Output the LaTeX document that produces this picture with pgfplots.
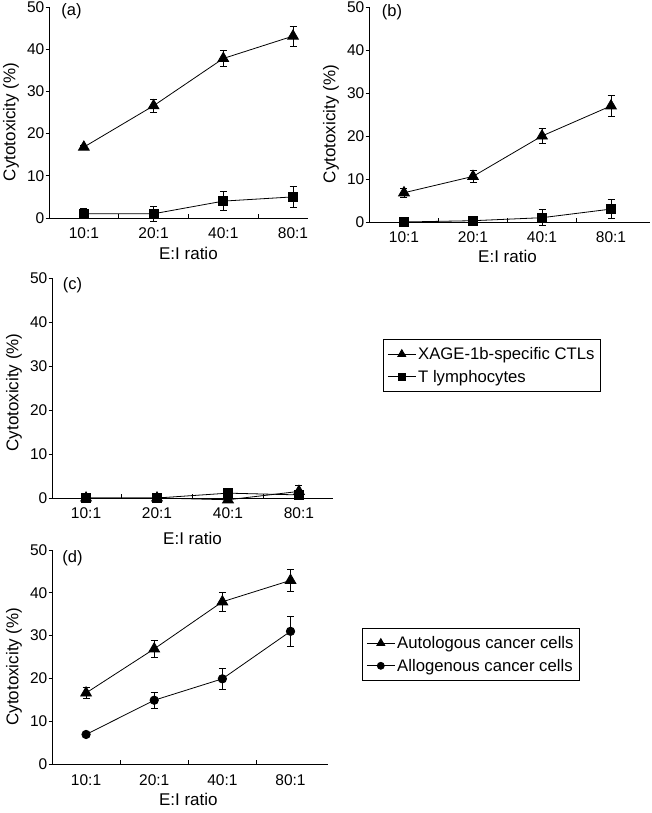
\documentclass[border=0pt]{standalone}
\usepackage{fontspec}
\setmainfont{Liberation Sans}
\usepackage{pgfplots}
\pgfplotsset{compat=1.18}
\tikzset{plab/.style={font=\fontsize{16.5}{19}\selectfont, anchor=center}}
\pgfplotsset{
  panel/.style={
    scale only axis,
    anchor=south west,
    axis lines=left,
    axis line style={-, black, line width=0.8pt},
    clip=false,
    ymin=0, ymax=50,
    ytick={0,10,20,30,40,50},
    tick align=outside,
    major tick length=3.5pt,
    tick style={black, line width=0.8pt},
    xtick={0,1,2,3},
    xticklabels={10:1,20:1,40:1,80:1},
    major x tick style={draw=none},
    extra x ticks={0.5,1.5,2.5},
    extra x tick labels={},
    extra x tick style={tick align=inside, major x tick style={draw=black}},
    /pgf/number format/assume math mode=true,
    tick label style={font=\fontsize{15.5}{18}\selectfont},
    yticklabel style={inner sep=1pt},
    xticklabel style={anchor=base, yshift=-17.5pt},
    ylabel={Cytotoxicity (\%)},
    xlabel={E:I ratio},
    ylab/.style={every axis y label/.style={at={(rel axis cs:0,##1)}, xshift=-38pt, rotate=90, anchor=center, font=\fontsize{17}{20}\selectfont}},
    xlab/.style={every axis x label/.style={at={(axis cs:1.5,0)}, yshift=-##1, anchor=center, font=\fontsize{17}{20}\selectfont}},
    ylab=0.455, xlab=35pt,
    legend cell align=left,
    legend image code/.code={\draw[mark repeat=2,mark phase=2] plot coordinates {(0pt,0pt)(14pt,0pt)(28pt,0pt)};},
    legend style={draw=black, line width=0.8pt, anchor=north west, font=\fontsize{16.7}{19.5}\selectfont, inner xsep=4pt, inner ysep=6pt, row sep=5pt},
  },
  eb/.style={error bars/.cd, y dir=both, y explicit, error bar style={line width=0.8pt, black}, error mark options={rotate=90, mark size=3.5pt, line width=0.8pt, black}},
  tri/.style={black, line width=0.8pt, mark=triangle*, mark size=6.2pt, mark options={solid, fill=black}, legend image post style={mark size=4.6pt}, eb},
  sqr/.style={black, line width=0.8pt, mark=square*, mark size=4.5pt, mark options={solid, fill=black}, legend image post style={mark size=3.8pt}, eb},
  circ/.style={black, line width=0.8pt, mark=*, mark size=4.2pt, mark options={solid, fill=black}, legend image post style={mark size=3.5pt}, eb},
}
\begin{document}
\begin{tikzpicture}
\useasboundingbox (0pt,0pt) rectangle (651pt,813pt);
% (a)
\begin{axis}[panel, at={(49pt,595pt)}, width=259pt, height=211pt, xmin=-0.5, xmax=3.215, xlab=35pt]
\addplot[tri] table[x=x, y=y, y error=e] {
x y e
0 16.8 0.4
1 26.6 1.6
2 37.8 1.9
3 43.1 2.4
};
\addplot[sqr] table[x=x, y=y, y error=e] {
x y e
0 1.0 1.2
1 1.0 1.7
2 4.0 2.2
3 5.0 2.4
};
\node[plab] at (rel axis cs:0,1) [xshift=22.5pt, yshift=-4.5pt] {(a)};
\end{axis}
% (b)
\begin{axis}[panel, at={(369pt,591pt)}, width=281pt, height=215pt, xmin=-0.507, xmax=3.565, xlab=34pt]
\addplot[tri] table[x=x, y=y, y error=e] {
x y e
0 6.8 1.1
1 10.6 1.3
2 20.0 1.8
3 27.0 2.5
};
\addplot[sqr] table[x=x, y=y, y error=e] {
x y e
0 0.0 0.0
1 0.3 1.1
2 1.0 1.9
3 3.0 2.2
};
\node[plab] at (rel axis cs:0,1) [xshift=23pt, yshift=-5pt] {(b)};
\end{axis}
% (c)
\begin{axis}[panel, at={(52pt,315pt)}, width=281pt, height=220pt, xmin=-0.48, xmax=3.48, xlab=40.5pt, ylab=0.48,
  legend style={at={(1.1779,0.7227)}}]
\addplot[tri] table[x=x, y=y, y error=e] {
x y e
0 0.0 0.0
1 0.0 0.0
2 -0.4 0.3
3 1.5 1.3
};
\addlegendentry{XAGE-1b-specific CTLs}
\addplot[sqr] table[x=x, y=y, y error=e] {
x y e
0 0.0 0.0
1 0.0 0.0
2 1.1 0.3
3 0.7 0.3
};
\addlegendentry{T lymphocytes}
\node[plab] at (rel axis cs:0,1) [xshift=20.5pt, yshift=-7pt] {(c)};
\end{axis}
% (d)
\begin{axis}[panel, at={(52pt,49pt)}, width=276pt, height=214pt, xmin=-0.5, xmax=3.55, xlab=35.5pt,
  legend style={at={(1.1232,0.6355)}}]
\addplot[tri] table[x=x, y=y, y error=e] {
x y e
0 16.6 1.3
1 26.9 1.9
2 37.9 2.2
3 42.9 2.5
};
\addlegendentry{Autologous cancer cells}
\addplot[circ] table[x=x, y=y, y error=e] {
x y e
0 6.9 0.3
1 14.9 1.9
2 19.9 2.5
3 31.0 3.5
};
\addlegendentry{Allogenous cancer cells}
\node[plab] at (rel axis cs:0,1) [xshift=20.5pt, yshift=-8pt] {(d)};
\end{axis}
\end{tikzpicture}
\end{document}
